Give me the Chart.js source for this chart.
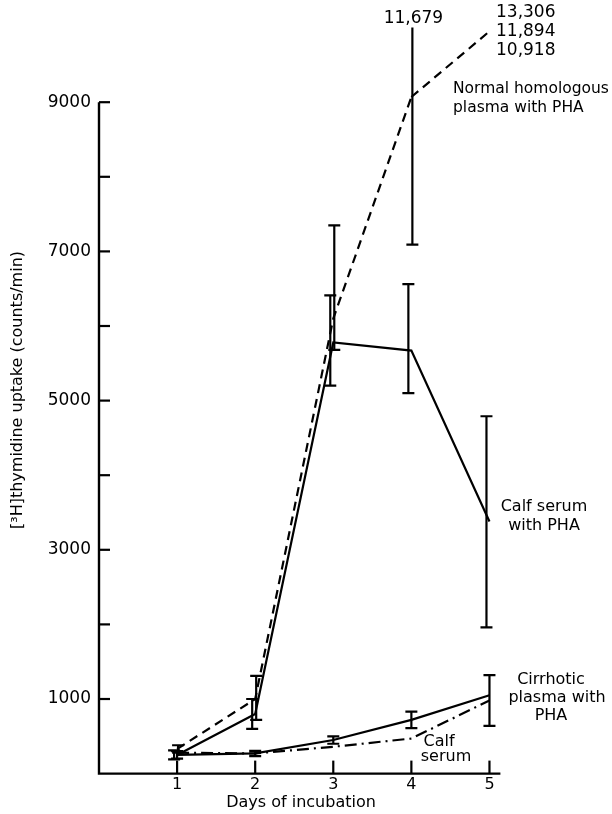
<!DOCTYPE html>
<html><head><meta charset="utf-8">
<script src="https://cdn.jsdelivr.net/npm/chart.js@4.4.0/dist/chart.umd.min.js"></script>
<style>html,body{margin:0;padding:0;background:#fff}#wrap{width:612px;height:814px;position:relative}</style>
</head><body><div id="wrap"><canvas id="c" width="612" height="814"></canvas></div>
<script>
// ---- data ----
const days = [1, 2, 3, 4, 5];
const xTickLabels = ['1', '2', '3', '4', '5'];
const yTickValues = [1000, 2000, 3000, 4000, 5000, 6000, 7000, 8000, 9000];
const yLabelledTicks = [1000, 3000, 5000, 7000, 9000];
const yAxisTop = 9000;

const calfPHA = [250, 800, 5780, 5670, 3380];
const calfPHALow = [190, 600, 5200, 5100, 1960];
const calfPHAHigh = [310, 1000, 6410, 6560, 4790];

const normalPlasma = [330, 1000, 6100, 9070];          // days 1-4 on scale
const normalPlasmaLow = [280, 720, 5680, 7090];
const normalPlasmaHigh = [380, 1310, 7350, 11679];
const normalPlasmaDay5 = ['13,306', '11,894', '10,918']; // off-scale day 5 (high, mean, low)
const normalPlasmaBreakEnd = 9950;                      // where the broken dashed line stops at day 5
const normalPlasmaDay4HighLabel = '11,679';

const cirrhotic = [250, 270, 450, 720, 1050];
const cirrhoticLow = [200, 235, 400, 610, 640];
const cirrhoticHigh = [300, 305, 500, 830, 1320];

const calfSerum = [280, 270, 360, 470, 980];

const FONT = '"DejaVu Sans", sans-serif';

const pts = (xs, ys) => ys.map((y, i) => ({ x: xs[i], y }));

const errorSets = [
  { mean: calfPHA, low: calfPHALow, high: calfPHAHigh, dx: -3 },
  { mean: normalPlasma, low: normalPlasmaLow, high: normalPlasmaHigh, dx: 1 },
  { mean: cirrhotic, low: cirrhoticLow, high: cirrhoticHigh, dx: 0 }
];

const figurePlugin = {
  id: 'figure',
  afterDatasetsDraw(chart) {
    const ctx = chart.ctx, xs = chart.scales.x, ys = chart.scales.y, ca = chart.chartArea;
    ctx.save();
    ctx.strokeStyle = '#000';
    ctx.fillStyle = '#000';
    ctx.lineCap = 'butt';
    // axes
    ctx.lineWidth = 2.4;
    const x0 = xs.getPixelForValue(0), y0 = ys.getPixelForValue(0);
    ctx.beginPath();
    ctx.moveTo(x0, ys.getPixelForValue(yAxisTop));
    ctx.lineTo(x0, y0);
    ctx.lineTo(ca.right, y0);
    ctx.stroke();
    ctx.lineWidth = 2.2;
    yTickValues.forEach(v => {
      const y = ys.getPixelForValue(v);
      ctx.beginPath(); ctx.moveTo(x0, y); ctx.lineTo(x0 + 11, y); ctx.stroke();
    });
    days.forEach(d => {
      const x = xs.getPixelForValue(d);
      ctx.beginPath(); ctx.moveTo(x, y0); ctx.lineTo(x, y0 - 13); ctx.stroke();
    });
    // error bars
    ctx.save();
    ctx.beginPath(); ctx.rect(ca.left - 10, ca.top, ca.right - ca.left + 20, ca.bottom - ca.top); ctx.clip();
    ctx.lineWidth = 2.2;
    errorSets.forEach(s => {
      s.low.forEach((lo, i) => {
        const x = xs.getPixelForValue(days[i]) + s.dx;
        const yl = ys.getPixelForValue(lo), yh = ys.getPixelForValue(s.high[i]);
        ctx.beginPath();
        ctx.moveTo(x, yl); ctx.lineTo(x, yh);
        ctx.moveTo(x - 6, yl); ctx.lineTo(x + 6, yl);
        ctx.moveTo(x - 6, yh); ctx.lineTo(x + 6, yh);
        ctx.stroke();
      });
    });
    ctx.restore();
    // annotations
    ctx.textBaseline = 'middle';
    ctx.font = '17px ' + FONT;
    ctx.textAlign = 'center';
    ctx.fillText(normalPlasmaDay4HighLabel, xs.getPixelForValue(4) + 2, 19);
    ctx.textAlign = 'left';
    normalPlasmaDay5.forEach((t, i) => ctx.fillText(t, 496, 13 + i * 19));
    ctx.font = '15.5px ' + FONT;
    ctx.fillText('Normal homologous', 453, 89);
    ctx.fillText('plasma with PHA', 453, 108);
    ctx.font = '16px ' + FONT;
    ctx.textAlign = 'center';
    ctx.fillText('Calf serum', 544, 507);
    ctx.fillText('with PHA', 544, 526);
    ctx.fillText('Cirrhotic', 551, 680);
    ctx.fillText('plasma with', 557, 698);
    ctx.fillText('PHA', 551, 716);
    ctx.fillText('Calf', 439, 742);
    ctx.fillText('serum', 446, 757);
    // axis titles
    ctx.fillText('Days of incubation', 301, 803);
    ctx.save();
    ctx.translate(18, 390);
    ctx.rotate(-Math.PI / 2);
    ctx.fillText('[\u00B3H]thymidine uptake (counts/min)', 0, 0);
    ctx.restore();
    ctx.restore();
  }
};

const lineBase = { borderColor: '#000', borderWidth: 2.2, pointRadius: 0, tension: 0, fill: false, clip: false };

new Chart(document.getElementById('c'), {
  type: 'line',
  data: {
    datasets: [
      Object.assign({ label: 'Calf serum with PHA', data: pts(days, calfPHA) }, lineBase),
      Object.assign({ label: 'Normal homologous plasma with PHA', data: pts(days, normalPlasma), borderDash: [9, 6] }, lineBase),
      Object.assign({ label: 'Normal homologous plasma with PHA (off scale)', data: [{ x: 4, y: normalPlasma[3] }, { x: 5, y: normalPlasmaBreakEnd }], borderDash: [9, 6] }, lineBase),
      Object.assign({ label: 'Cirrhotic plasma with PHA', data: pts(days, cirrhotic) }, lineBase),
      Object.assign({ label: 'Calf serum', data: pts(days, calfSerum), borderDash: [12, 5, 2, 5] }, lineBase)
    ]
  },
  options: {
    responsive: false,
    devicePixelRatio: 1,
    animation: false,
    events: [],
    layout: { padding: { left: 0, top: 27.6, right: 111.6, bottom: 0 } },
    plugins: { legend: { display: false }, tooltip: { enabled: false } },
    scales: {
      x: {
        type: 'linear', min: 0, max: 5.14,
        grid: { display: false, drawTicks: false }, border: { display: false },
        afterBuildTicks: s => { s.ticks = days.map(v => ({ value: v })); },
        afterFit: s => { s.height = 40.4; },
        ticks: { color: '#000', font: { family: FONT, size: 16 }, padding: 2, maxRotation: 0,
          callback: v => xTickLabels[days.indexOf(v)] }
      },
      y: {
        type: 'linear', min: 0, max: 10000,
        grid: { display: false, drawTicks: false }, border: { display: false },
        afterBuildTicks: s => { s.ticks = yTickValues.map(v => ({ value: v })); },
        afterFit: s => { s.width = 99; },
        ticks: { color: '#000', font: { family: FONT, size: 17 }, padding: 8,
          callback: v => yLabelledTicks.includes(v) ? String(v) : '' }
      }
    }
  },
  plugins: [figurePlugin]
});
</script>
</body></html>
